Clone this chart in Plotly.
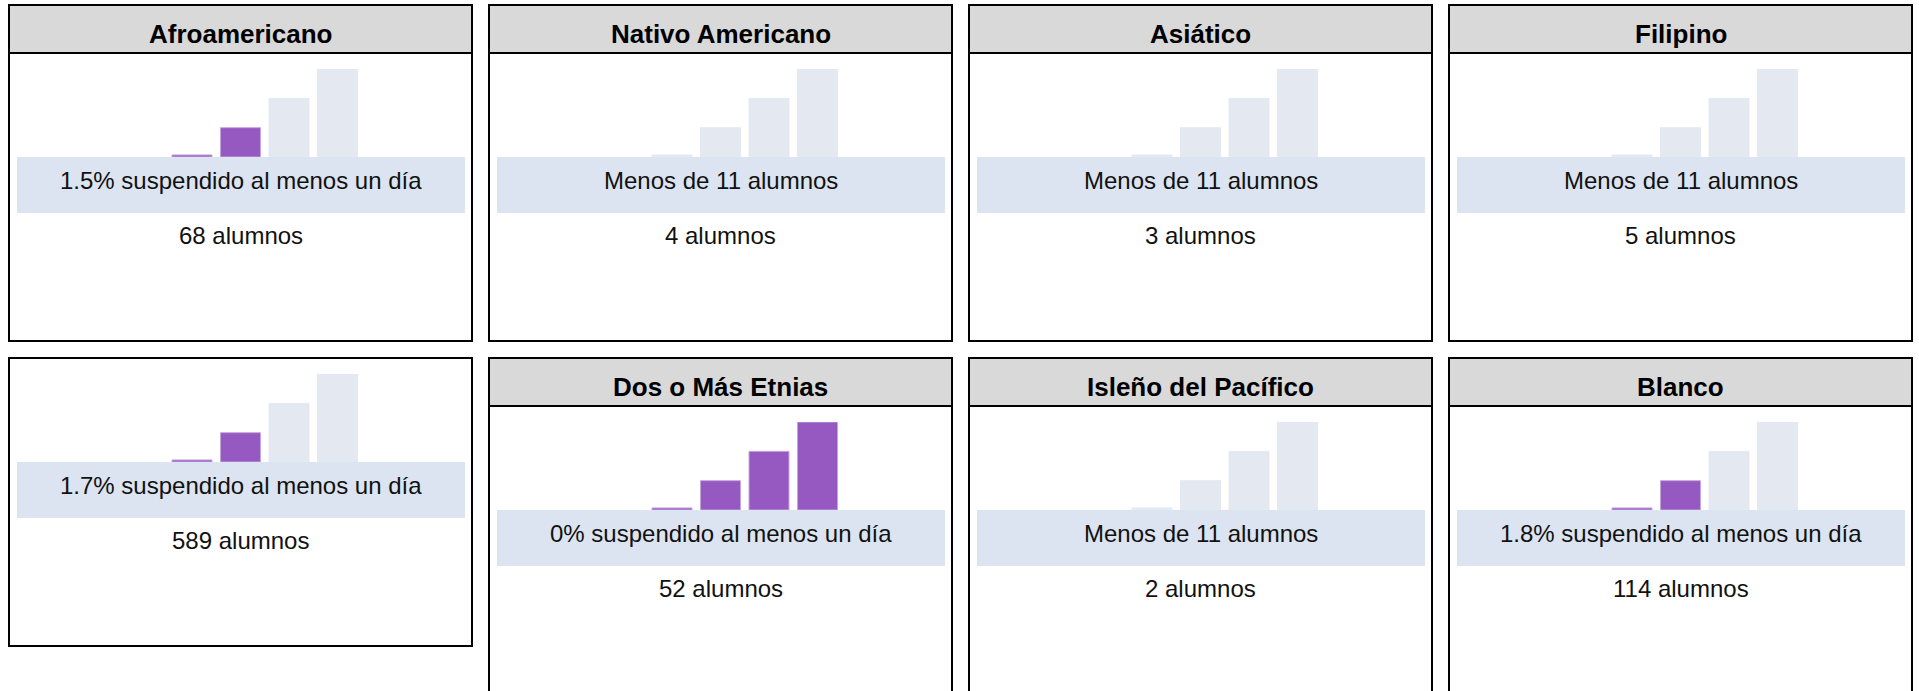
import plotly.graph_objects as go

# ---------------- data ----------------
titles = ["Afroamericano", "Nativo Americano", "Asiático", "Filipino",
          None, "Dos o Más Etnias", "Isleño del Pacífico", "Blanco"]
rate_labels = ["1.5% suspendido al menos un día", "Menos de 11 alumnos",
               "Menos de 11 alumnos", "Menos de 11 alumnos",
               "1.7% suspendido al menos un día", "0% suspendido al menos un día",
               "Menos de 11 alumnos", "1.8% suspendido al menos un día"]
students = [68, 4, 3, 5, 589, 52, 2, 114]
highlight_levels = [2, 0, 0, 0, 2, 4, 0, 2]   # number of purple bars
scale_steps = [0, 1, 2, 3]                     # bar categories
scale_heights = [0.07, 1, 2, 3]                # icon bar heights

# ---------------- styling / layout ----------------
W, H = 1919, 691
PURPLE = "#9559C1"
PURPLE_EDGE = "#C6A5DE"
GREY_BAR = "#E4E9F1"
BAND = "#DBE4F0"
HEADER = "#D9D9D9"
FONT = "Arial, Liberation Sans, sans-serif"

col_left = [9, 489, 969, 1449]
panel_w = 463
row_top = [5, 358]
header_h = 48
bar_step = 48.5
bar_w_px = 40
bar_h_px = 88


def px(x):
    return x / W


def py(y):
    return 1 - y / H


fig = go.Figure()
shapes = []
annotations = []
layout_axes = {}

for i in range(8):
    r, c = divmod(i, 4)
    left = col_left[c]
    right = left + panel_w
    top = row_top[r]
    has_header = titles[i] is not None
    off = 0 if has_header else -48
    # bottom of panel
    if r == 0:
        bottom = 341
        open_bottom = False
    elif not has_header:
        bottom = 646
        open_bottom = False
    else:
        bottom = 760
        open_bottom = True

    # header
    if has_header:
        shapes.append(dict(type="rect", xref="paper", yref="paper",
                           x0=px(left), x1=px(right), y0=py(top), y1=py(top + header_h),
                           fillcolor=HEADER, line=dict(width=0), layer="below"))
        shapes.append(dict(type="line", xref="paper", yref="paper",
                           x0=px(left), x1=px(right), y0=py(top + header_h), y1=py(top + header_h),
                           line=dict(color="black", width=2)))
        annotations.append(dict(x=px(left + panel_w / 2), y=py(top + 29), xref="paper", yref="paper",
                                text="<b>%s</b>" % titles[i], showarrow=False,
                                xanchor="center", yanchor="middle",
                                font=dict(family=FONT, size=26, color="black")))

    # band
    band_top = top + 152 + off
    band_bot = top + 208 + off
    shapes.append(dict(type="rect", xref="paper", yref="paper",
                       x0=px(left + 8), x1=px(right - 7), y0=py(band_top), y1=py(band_bot),
                       fillcolor=BAND, line=dict(width=0), layer="below"))
    annotations.append(dict(x=px(left + panel_w / 2), y=py(top + 175 + off), xref="paper", yref="paper",
                            text=rate_labels[i], showarrow=False, xanchor="center", yanchor="middle",
                            font=dict(family=FONT, size=24, color="#111111")))
    annotations.append(dict(x=px(left + panel_w / 2), y=py(top + 230 + off), xref="paper", yref="paper",
                            text="%d alumnos" % students[i], showarrow=False, xanchor="center",
                            yanchor="middle", font=dict(family=FONT, size=24, color="#111111")))

    # border
    if open_bottom:
        path = "M %f,%f L %f,%f L %f,%f L %f,%f" % (px(left), py(bottom), px(left), py(top),
                                                    px(right), py(top), px(right), py(bottom))
        shapes.append(dict(type="path", xref="paper", yref="paper", path=path,
                           line=dict(color="black", width=2)))
    else:
        shapes.append(dict(type="rect", xref="paper", yref="paper",
                           x0=px(left), x1=px(right), y0=py(top), y1=py(bottom),
                           line=dict(color="black", width=2), fillcolor="rgba(0,0,0,0)"))

    # bars
    suffix = "" if i == 0 else str(i + 1)
    half = (panel_w / 2) / bar_step
    layout_axes["xaxis" + suffix] = dict(domain=[px(left), px(right)], range=[1 - half, 1 + half],
                                         visible=False, fixedrange=True)
    layout_axes["yaxis" + suffix] = dict(domain=[py(band_top), py(band_top - bar_h_px)],
                                         range=[0, 3], visible=False, fixedrange=True)
    colors = [PURPLE if k < highlight_levels[i] else GREY_BAR for k in range(len(scale_steps))]
    edges = [PURPLE_EDGE if k < highlight_levels[i] else GREY_BAR for k in range(len(scale_steps))]
    fig.add_trace(go.Bar(x=scale_steps, y=scale_heights, width=bar_w_px / bar_step,
                         marker=dict(color=colors, line=dict(color=edges, width=1)),
                         xaxis="x" + suffix, yaxis="y" + suffix, showlegend=False,
                         hoverinfo="skip"))

fig.update_layout(width=W, height=H, margin=dict(l=0, r=0, t=0, b=0),
                  paper_bgcolor="white", plot_bgcolor="rgba(0,0,0,0)",
                  shapes=shapes, annotations=annotations, showlegend=False,
                  **layout_axes)

fig.write_html("out.html", config={"displayModeBar": False})
